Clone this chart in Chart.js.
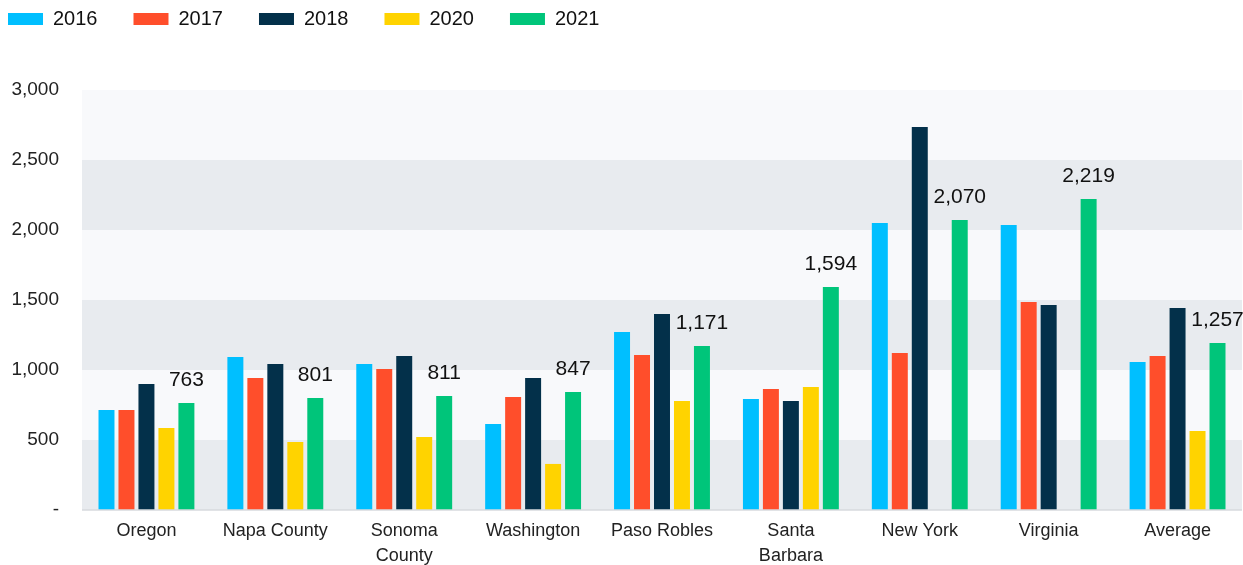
<!DOCTYPE html>
<html>
<head>
<meta charset="utf-8">
<script src="https://cdn.jsdelivr.net/npm/chart.js@4"></script>
<style>
html, body { margin: 0; padding: 0; background: #fff; }
#wrap { width: 1243px; height: 565px; }
</style>
</head>
<body>
<div id="wrap"><canvas id="myChart"></canvas></div>
<script>
// Datos del gráfico
const categories = [['Oregon'], ['Napa County'], ['Sonoma', 'County'], ['Washington'], ['Paso Robles'], ['Santa', 'Barbara'], ['New York'], ['Virginia'], ['Average']];
const years = ['2016', '2017', '2018', '2020', '2021'];
const values2016 = [714, 1093, 1043, 614, 1271, 793, 2050, 2036, 1057];
const values2017 = [714, 943, 1007, 807, 1107, 864, 1121, 1486, 1100];
const values2018 = [900, 1043, 1100, 943, 1400, 779, 2736, 1464, 1443];
const values2020 = [586, 486, 521, 329, 779, 879, null, null, 564];
const values2021 = [764, 800, 814, 843, 1171, 1593, 2071, 2221, 1193];
const labels2021 = ['763', '801', '811', '847', '1,171', '1,594', '2,070', '2,219', '1,257'];
const yTicks = [0, 500, 1000, 1500, 2000, 2500, 3000];
const colors = ['#00bfff', '#ff4e2b', '#03304a', '#ffd300', '#00c57a'];

const FONT = "'Liberation Sans', Arial, sans-serif";

// Bandas de fondo alternas
const bands = {
    id: 'bands',
    beforeDraw(chart) {
        const { ctx, chartArea } = chart;
        const y = chart.scales.y;
        ctx.save();
        for (let i = 0; i < yTicks.length - 1; i++) {
            const top = y.getPixelForValue(yTicks[i + 1]);
            const bottom = y.getPixelForValue(yTicks[i]);
            ctx.fillStyle = i % 2 === 0 ? '#e8ebef' : '#f8f9fb';
            ctx.fillRect(chartArea.left, top, chartArea.right - chartArea.left, bottom - top);
        }
        ctx.restore();
    }
};

// Etiquetas sobre las barras de 2021 + línea base
const topLabels = {
    id: 'topLabels',
    afterDatasetsDraw(chart) {
        const { ctx, chartArea } = chart;
        const y0 = chart.scales.y.getPixelForValue(0);
        ctx.save();
        ctx.strokeStyle = 'rgba(215,217,221,0.75)';
        ctx.lineWidth = 2;
        ctx.beginPath();
        ctx.moveTo(chartArea.left, y0);
        ctx.lineTo(chartArea.right, y0);
        ctx.stroke();

        const meta = chart.getDatasetMeta(4);
        ctx.font = '21px ' + FONT;
        ctx.fillStyle = '#111';
        ctx.textAlign = 'center';
        ctx.textBaseline = 'bottom';
        meta.data.forEach((bar, i) => {
            ctx.fillText(labels2021[i], bar.x, bar.y - 12);
        });
        ctx.restore();
    }
};

// Espacio y posición de la leyenda
const legendSpace = {
    id: 'legendSpace',
    beforeInit(chart) {
        const fit = chart.legend.fit;
        chart.legend.fit = function () {
            fit.call(this);
            this.height = 90;
        };
    },
    afterLayout(chart) {
        chart.legend.left = 8 - 36;
        chart.legend.top = 9 - 36;
    }
};

function createChart() {
    const ctx = document.getElementById('myChart').getContext('2d');
    const seriesValues = [values2016, values2017, values2018, values2020, values2021];
    new Chart(ctx, {
        type: 'bar',
        data: {
            labels: categories,
            datasets: years.map((yr, i) => ({
                label: yr,
                data: seriesValues[i],
                backgroundColor: colors[i],
                borderWidth: 0,
                categoryPercentage: 0.775,
                barPercentage: 0.8
            }))
        },
        options: {
            responsive: true,
            maintainAspectRatio: false,
            animation: false,
            layout: { padding: { left: 0, right: 1, top: 0, bottom: 0 } },
            plugins: {
                legend: {
                    position: 'top',
                    align: 'start',
                    labels: {
                        boxWidth: 35,
                        boxHeight: 12,
                        padding: 36,
                        color: '#111',
                        font: { family: FONT, size: 20 }
                    }
                },
                tooltip: { enabled: false }
            },
            scales: {
                x: {
                    grid: { display: false },
                    border: { display: false },
                    ticks: {
                        color: '#222',
                        padding: 0,
                        maxRotation: 0,
                        autoSkip: false,
                        font: { family: FONT, size: 18, lineHeight: 1.4 }
                    },
                    afterFit(scale) { scale.height = 55; }
                },
                y: {
                    min: 0,
                    max: 3000,
                    grid: { display: false },
                    border: { display: false },
                    ticks: {
                        stepSize: 500,
                        color: '#222',
                        padding: 15,
                        font: { family: FONT, size: 19 },
                        callback: v => v === 0 ? '-' : v.toLocaleString('en-US')
                    },
                    afterFit(scale) { scale.width = 82; }
                }
            }
        },
        plugins: [bands, topLabels, legendSpace]
    });
}

window.onload = createChart;
</script>
</body>
</html>
